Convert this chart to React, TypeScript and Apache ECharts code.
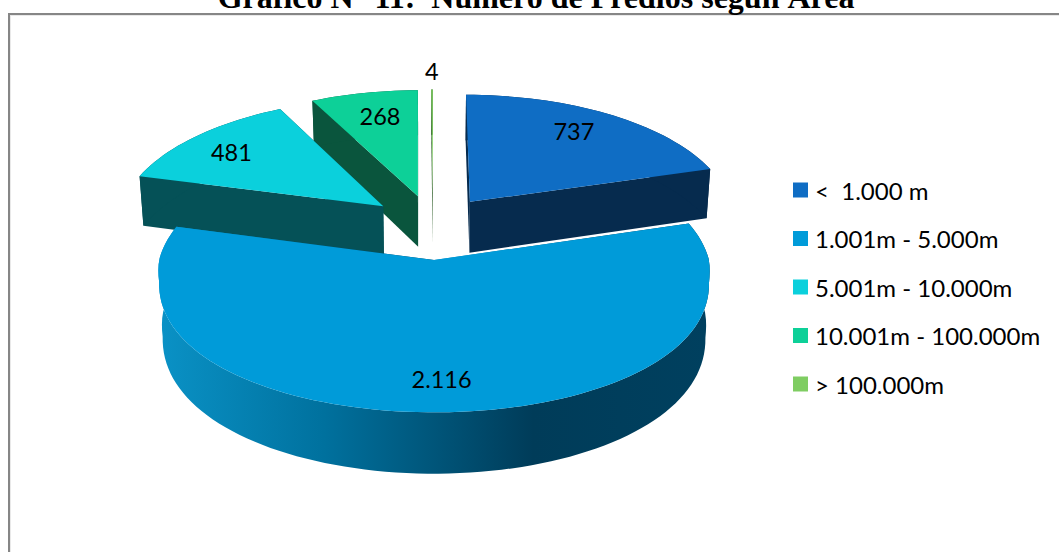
import React, { useEffect, useRef } from "react";
import * as echarts from "echarts";

const titleText = "Gráfico N° 11:  Número de Predios según Área";
const categories = ["<  1.000 m", "1.001m - 5.000m", "5.001m - 10.000m", "10.001m - 100.000m", "> 100.000m"];
const values = [737, 2116, 481, 268, 4];
const valueLabels = ["737", "2.116", "481", "268", "4"];
const topColors = ["#0f6dc4", "#009bd9", "#0bd0dc", "#0dd098", "#7fcd62"];
const wallColors: any[] = [
  "#062b4e",
  {
    type: "linear", x: 0, y: 0, x2: 1, y2: 0,
    colorStops: [
      { offset: 0, color: "#0a92c6" },
      { offset: 0.3, color: "#00719e" },
      { offset: 0.68, color: "#003c59" },
      { offset: 1, color: "#00405f" },
    ],
  },
  "#055157",
  "#0a553d",
  "#2f5e2a",
];
const explode = [63, 72, 65, 65, 65];
const labelRadius = [0.79, 0.803, 0.755, 0.76, 1.2];
const labelShiftX = [-8, 4, -9, 4, 0];
const drawLayer = [4, 5, 3, 2, 1];

const CX = 433, CY = 225, R = 266, K = 0.47, Q = 0.00045, DEPTH = 52, NARROW = 0.987, SHOULDER = 0.88, FRONT_TRIM = 0.012;

const total = values.reduce((a, b) => a + b, 0);
const toRad = (v: number) => (v / total) * Math.PI * 2;

function project(u: number, v: number, bottom: boolean): number[] {
  const s = 1 / (1 + Q * v);
  const x = CX + u * s * (bottom ? NARROW : 1);
  const y = CY - K * v * s + (bottom ? DEPTH * s : 0);
  return [x, y];
}

// the near half of the rim bulges a little, as a perspective view of a disc does
const depthOf = (a: number) => {
  const c = Math.cos(a);
  return c < 0 ? -Math.pow(-c, SHOULDER) : c;
};
const widthOf = (a: number) => {
  const c = Math.cos(a);
  return Math.sin(a) * (c < 0 ? 1 - FRONT_TRIM * Math.min(1, -c * 8) : 1);
};

function buildSeries() {
  let acc = 0;
  return categories.map((name, i) => {
    const a0 = toRad(acc);
    acc += values[i];
    const a1 = toRad(acc);
    const mid = (a0 + a1) / 2;
    const ou = Math.sin(mid) * explode[i];
    const ov = Math.cos(mid) * explode[i];
    const rim = (a: number, bottom: boolean) =>
      project(ou + widthOf(a) * R, ov + depthOf(a) * R, bottom);
    const steps = Math.max(2, Math.ceil(((a1 - a0) * 180) / Math.PI / 2));
    const arc: number[] = [];
    for (let k = 0; k <= steps; k++) arc.push(a0 + ((a1 - a0) * k) / steps);
    const apexTop = project(ou, ov, false);
    const apexBottom = project(ou, ov, true);
    const topPts = [apexTop, ...arc.map((a) => rim(a, false))];
    const outerWall = [...arc.map((a) => rim(a, false)), ...arc.slice().reverse().map((a) => rim(a, true))];
    const wallA = [apexTop, rim(a0, false), rim(a0, true), apexBottom];
    const wallB = [apexTop, rim(a1, false), rim(a1, true), apexBottom];
    const lab = project(
      ou + Math.sin(mid) * R * labelRadius[i],
      ov + Math.cos(mid) * R * labelRadius[i],
      false
    );
    const wallStyle = { fill: wallColors[i] };
    const renderItem = () => ({
      type: "group",
      children: [
        { type: "polygon", shape: { points: wallA }, style: wallStyle },
        { type: "polygon", shape: { points: wallB }, style: wallStyle },
        { type: "polygon", shape: { points: outerWall }, style: wallStyle },
        { type: "polygon", shape: { points: topPts }, style: { fill: topColors[i] } },
        {
          type: "text",
          x: lab[0] + labelShiftX[i],
          y: lab[1],
          style: {
            text: valueLabels[i],
            fill: "#000",
            font: "23.5px Lato",
            textAlign: "center",
            textVerticalAlign: "middle",
          },
        },
      ],
    });
    return {
      type: "custom",
      name,
      coordinateSystem: "none",
      silent: true,
      z: drawLayer[i],
      itemStyle: { color: topColors[i] },
      data: [[values[i]]],
      renderItem,
    };
  });
}

export default function App() {
  const ref = useRef<HTMLDivElement>(null);
  useEffect(() => {
    const chart = echarts.init(ref.current!, undefined, { renderer: "svg" });
    chart.setOption({
      animation: false,
      backgroundColor: "#fff",
      graphic: [
        { type: "line", silent: true, z: 0, shape: { x1: 11, y1: 15, x2: 1059, y2: 15 }, style: { stroke: "#d4d4d4", lineWidth: 1 } },
        { type: "line", silent: true, z: 0, shape: { x1: 10, y1: 15, x2: 10, y2: 552 }, style: { stroke: "#d4d4d4", lineWidth: 1 } },
        { type: "polyline", silent: true, z: 0, shape: { points: [[9, 552], [9, 14], [1059, 14]] }, style: { stroke: "#868686", lineWidth: 2, fill: "none" } },
        {
          type: "text",
          silent: true,
          x: 536,
          y: 13,
          style: {
            text: titleText,
            fill: "#000",
            font: "bold 32px 'Liberation Serif'",
            textAlign: "center",
            textVerticalAlign: "bottom",
          },
        },
      ],
      legend: {
        show: true,
        orient: "vertical",
        left: 788,
        top: 173,
        icon: "rect",
        itemWidth: 15,
        itemHeight: 15,
        itemGap: 24.5,
        selectedMode: false,
        data: categories,
        textStyle: {
          fontFamily: "Lato",
          fontSize: 24,
          color: "#000",
          lineHeight: 24,
          padding: [0, 0, 0, 2],
        },
      },
      series: buildSeries(),
    });
    return () => chart.dispose();
  }, []);
  return <div ref={ref} style={{ position: "fixed", left: 0, top: 0, width: 1059, height: 552 }} />;
}
